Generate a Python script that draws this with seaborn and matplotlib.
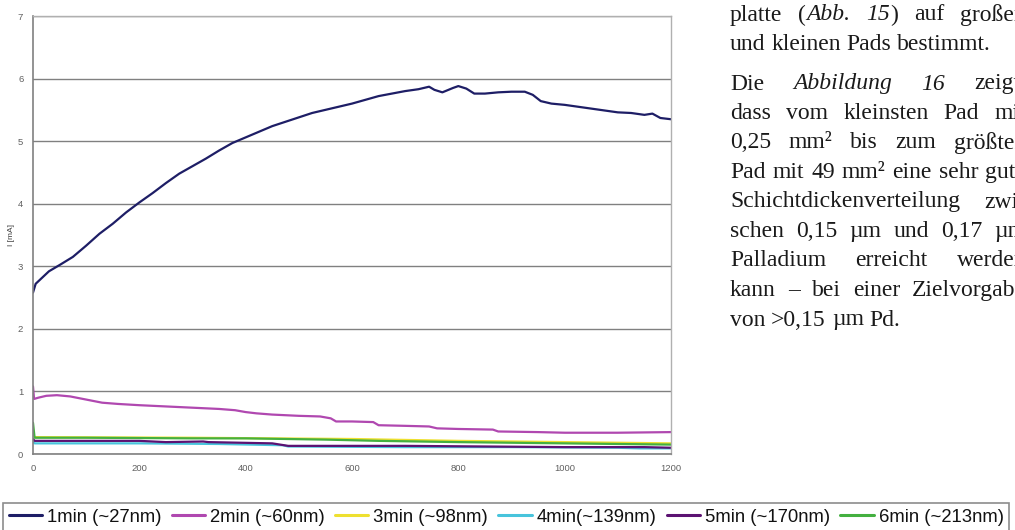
import numpy as np
import pandas as pd
import matplotlib
matplotlib.use("Agg")
import matplotlib.pyplot as plt
import seaborn as sns
from matplotlib.lines import Line2D

# ---------------- data ----------------
t_1min = [0, 5, 15, 30, 50, 75, 100, 125, 150, 175, 200, 225, 250, 275, 300, 325, 350,
          375, 400, 425, 450, 475, 500, 525, 550, 575, 600, 625, 650, 675, 700, 725,
          745, 755, 770, 790, 800, 815, 830, 850, 875, 900, 925, 940, 955, 975, 1000,
          1025, 1050, 1075, 1100, 1125, 1150, 1165, 1180, 1200]
i_1min = [2.58, 2.72, 2.80, 2.92, 3.02, 3.15, 3.33, 3.52, 3.68, 3.86, 4.02, 4.17, 4.33,
          4.48, 4.60, 4.72, 4.85, 4.97, 5.06, 5.15, 5.24, 5.31, 5.38, 5.45, 5.50, 5.55,
          5.60, 5.66, 5.72, 5.76, 5.80, 5.83, 5.87, 5.82, 5.78, 5.85, 5.88, 5.84, 5.76,
          5.76, 5.78, 5.79, 5.79, 5.74, 5.64, 5.60, 5.58, 5.55, 5.52, 5.49, 5.46, 5.45,
          5.42, 5.44, 5.37, 5.35]

t_2min = [0, 2, 10, 25, 45, 70, 100, 130, 160, 200, 250, 300, 350, 380, 400, 420, 450,
          500, 540, 560, 570, 600, 640, 650, 700, 745, 760, 800, 865, 875, 950, 1000,
          1100, 1200]
i_2min = [1.08, 0.88, 0.90, 0.93, 0.94, 0.92, 0.87, 0.82, 0.80, 0.78, 0.76, 0.74, 0.72,
          0.70, 0.67, 0.65, 0.63, 0.61, 0.60, 0.57, 0.52, 0.52, 0.51, 0.46, 0.45, 0.44,
          0.41, 0.40, 0.39, 0.36, 0.35, 0.34, 0.34, 0.35]

t_3min = [0, 3, 300, 600, 800, 1000, 1200]
i_3min = [0.30, 0.27, 0.26, 0.24, 0.21, 0.19, 0.17]

t_4min = [0, 3, 200, 350, 470, 480, 700, 900, 1100, 1140, 1200]
i_4min = [0.20, 0.17, 0.17, 0.16, 0.14, 0.12, 0.11, 0.11, 0.10, 0.09, 0.09]

t_5min = [0, 3, 200, 250, 320, 330, 450, 480, 700, 850, 1000, 1150, 1200]
i_5min = [0.24, 0.21, 0.21, 0.19, 0.20, 0.19, 0.17, 0.13, 0.13, 0.12, 0.11, 0.11, 0.10]

t_6min = [0, 3, 100, 300, 400, 550, 650, 800, 900, 1000, 1100, 1200]
i_6min = [0.50, 0.26, 0.26, 0.25, 0.25, 0.23, 0.21, 0.19, 0.18, 0.17, 0.16, 0.15]

series_labels = ["1min (~27nm)", "2min (~60nm)", "3min (~98nm)",
                 "4min(~139nm)", "5min (~170nm)", "6min (~213nm)"]
series_colors = ["#1e1e66", "#b048b0", "#eee030", "#48c4dc", "#5c1272", "#44b040"]
x_ticks = [0, 200, 400, 600, 800, 1000, 1200]
y_ticks = [0, 1, 2, 3, 4, 5, 6, 7]
y_label = "I [mA]"

text_lines = [
    "platte (_Abb. 15_) auf großen",
    "und kleinen Pads bestimmt.",
    "Die _Abbildung 16_ zeigt,",
    "dass vom kleinsten Pad mit",
    "0,25 mm² bis zum größten",
    "Pad mit 49 mm² eine sehr gute",
    "Schichtdickenverteilung zwi-",
    "schen 0,15 µm und 0,17 µm",
    "Palladium erreicht werden",
    "kann – bei einer Zielvorgabe",
    "von >0,15 µm Pd.",
]
justified = [True, False, True, True, True, True, True, True, True, True, False]

# ---------------- figure ----------------
sns.set_theme(style="white")
plt.rcParams['font.family'] = ['Liberation Sans', 'DejaVu Sans']

W, H = 1015, 530
fig = plt.figure(figsize=(W / 100, H / 100), dpi=100)
fig.patch.set_facecolor("white")

left, right, top, bottom = 33, 671, 16, 454
ax = fig.add_axes([left / W, 1 - bottom / H, (right - left) / W, (bottom - top) / H])

ts = [t_1min, t_2min, t_3min, t_4min, t_5min, t_6min]
vs = [i_1min, i_2min, i_3min, i_4min, i_5min, i_6min]
frames = [pd.DataFrame({"t": t, "I": v, "series": lab}) for t, v, lab in zip(ts, vs, series_labels)]
df = pd.concat(frames, ignore_index=True)

draw_order = [series_labels[k] for k in [2, 3, 4, 5, 1, 0]]
for lab in draw_order:
    k = series_labels.index(lab)
    sns.lineplot(data=df[df.series == lab], x="t", y="I", color=series_colors[k],
                 linewidth=1.6, ax=ax, estimator=None, sort=False, legend=False)

ax.set_xlim(0, 1200)
ax.set_ylim(0, 7)
ax.set_xticks(x_ticks)
ax.set_yticks(y_ticks)
ax.set_xticklabels([str(v) for v in x_ticks])
ax.set_yticklabels([str(v) for v in y_ticks])
ax.set_xlabel("")
ax.set_ylabel(y_label, fontsize=6, color="#404040", labelpad=2)
ax.yaxis.grid(True, color="#808080", linewidth=1.0)
ax.xaxis.grid(False)
ax.set_axisbelow(True)
ax.tick_params(axis="both", labelsize=6.8, labelcolor="#606060", colors="#808080",
               length=3, width=0.8, direction="out", pad=4)
ax.tick_params(axis="both", labelcolor="#606060")
for s in ["left", "bottom"]:
    ax.spines[s].set_color("#808080")
    ax.spines[s].set_linewidth(1.2)
for s in ["right", "top"]:
    ax.spines[s].set_color("#b0b0b0")
    ax.spines[s].set_linewidth(1.0)

# legend at the bottom
handles = [Line2D([], [], color=c, linewidth=2.2) for c in series_colors]
leg = fig.legend(handles, series_labels, ncol=6, loc="upper left",
                 bbox_to_anchor=(3 / W, 1 - 503 / H), frameon=True, fancybox=False,
                 fontsize=13.3, handlelength=1.8, handletextpad=0.28, columnspacing=0.55,
                 borderpad=0.3, borderaxespad=0.0)
leg.get_frame().set_edgecolor("#707070")
leg.get_frame().set_linewidth(1.2)
for txt in leg.get_texts():
    txt.set_color("#111111")

# justified serif text column at right
FS = 17
x0_px, x1_px = 730, 1026
line_centers = [15, 44.5, 84, 113.5, 143, 172.5, 202, 231.5, 261, 290.5, 320]
renderer = fig.canvas.get_renderer()


def parse(line):
    words, italic = [], False
    for w in line.split(" "):
        segs, buf = [], ""
        for ch in w:
            if ch == "_":
                if buf:
                    segs.append((buf, italic))
                    buf = ""
                italic = not italic
            else:
                buf += ch
        if buf:
            segs.append((buf, italic))
        words.append(segs)
    return words


def mk(s, it, x, y):
    return fig.text(x / W, 1 - y / H, s, fontsize=FS, family=["Liberation Serif", "DejaVu Serif"],
                    style="italic" if it else "normal", va="center", ha="left", color="#1a1a1a")


probe = mk("a a", False, 0, -100)
probe2 = mk("aa", False, 0, -100)
space_w = probe.get_window_extent(renderer).width - probe2.get_window_extent(renderer).width
probe.remove()
probe2.remove()

for line, just, yc in zip(text_lines, justified, line_centers):
    words = parse(line)
    arts = []
    widths = []
    for segs in words:
        wa, ww = [], 0
        for s, it in segs:
            a = mk(s, it, 0, yc)
            w = a.get_window_extent(renderer).width
            wa.append((a, w))
            ww += w
        arts.append(wa)
        widths.append(ww)
    total = sum(widths)
    n = len(words) - 1
    gap = space_w
    if just and n > 0:
        gap = max(space_w, (x1_px - x0_px - total) / n)
    x = x0_px
    for wa, ww in zip(arts, widths):
        xx = x
        for a, w in wa:
            a.set_x(xx / W)
            xx += w
        x += ww + gap

fig.savefig("out.png", dpi=100, facecolor="white")
